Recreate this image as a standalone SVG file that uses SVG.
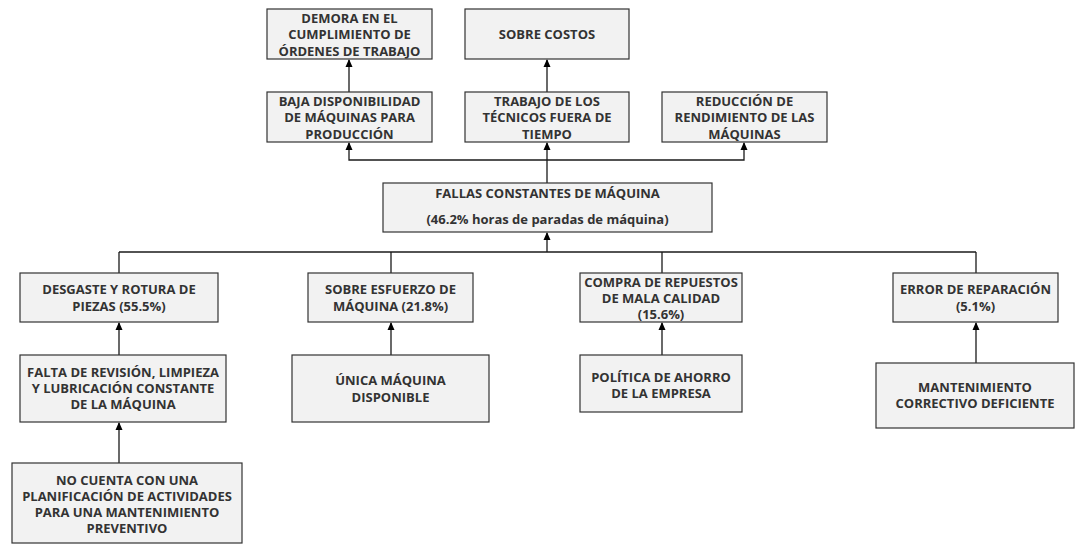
<svg xmlns="http://www.w3.org/2000/svg" width="1075" height="544" viewBox="0 0 1075 544">
  <style>
    .box { fill: #f2f2f2; stroke: #333333; stroke-width: 1.2; }
    .lbl { font-family: "Open Sans", "Liberation Sans", sans-serif; font-weight: 700; font-size: 13px; fill: #333333; text-anchor: middle; }
    .edge { fill: none; stroke: #1a1a1a; stroke-width: 1.3; }
  </style>
  <defs>
    <marker id="arrow" markerWidth="8" markerHeight="8" refX="7" refY="4" orient="auto" markerUnits="userSpaceOnUse">
      <path d="M0,0.5 L8,4 L0,7.5 Z" fill="#000000"/>
    </marker>
  </defs>
  <rect width="1075" height="544" fill="#ffffff"/>

  <!-- connectors -->
  <g id="connectors">
    <path class="edge" d="M349,92 V60" marker-end="url(#arrow)"/>
    <path class="edge" d="M547,92 V60" marker-end="url(#arrow)"/>
    <path class="edge" d="M547,183 V160"/>
    <path class="edge" d="M547,160 H349 V143" marker-end="url(#arrow)"/>
    <path class="edge" d="M547,160 V143" marker-end="url(#arrow)"/>
    <path class="edge" d="M547,160 H744 V143" marker-end="url(#arrow)"/>
    <path class="edge" d="M119,252 H976"/>
    <path class="edge" d="M547,252 V233" marker-end="url(#arrow)"/>
    <path class="edge" d="M119,252 V273"/>
    <path class="edge" d="M391,252 V273"/>
    <path class="edge" d="M662,252 V273"/>
    <path class="edge" d="M976,252 V273"/>
    <path class="edge" d="M119,355 V323" marker-end="url(#arrow)"/>
    <path class="edge" d="M119,463 V423" marker-end="url(#arrow)"/>
    <path class="edge" d="M391,355 V323" marker-end="url(#arrow)"/>
    <path class="edge" d="M662,355 V323" marker-end="url(#arrow)"/>
    <path class="edge" d="M976,363 V323" marker-end="url(#arrow)"/>
  </g>

  <g id="demora">
    <rect class="box" x="267" y="9" width="165" height="50"/>
    <text class="lbl"><tspan x="349.5" y="22.5">DEMORA EN EL</tspan><tspan x="349.5" y="39">CUMPLIMIENTO DE</tspan><tspan x="349.5" y="55.5">ÓRDENES DE TRABAJO</tspan></text>
  </g>
  <g id="sobrecostos">
    <rect class="box" x="465" y="9" width="164" height="50"/>
    <text class="lbl" x="547" y="38.5">SOBRE COSTOS</text>
  </g>
  <g id="baja">
    <rect class="box" x="267" y="92" width="165" height="50"/>
    <text class="lbl"><tspan x="349.5" y="105.5">BAJA DISPONIBILIDAD</tspan><tspan x="349.5" y="122">DE MÁQUINAS PARA</tspan><tspan x="349.5" y="138.5">PRODUCCIÓN</tspan></text>
  </g>
  <g id="trabajo">
    <rect class="box" x="465" y="92" width="164" height="50"/>
    <text class="lbl"><tspan x="547" y="105.5">TRABAJO DE LOS</tspan><tspan x="547" y="122">TÉCNICOS FUERA DE</tspan><tspan x="547" y="138.5">TIEMPO</tspan></text>
  </g>
  <g id="reduccion">
    <rect class="box" x="662" y="92" width="165" height="50"/>
    <text class="lbl"><tspan x="744.5" y="105.5">REDUCCIÓN DE</tspan><tspan x="744.5" y="122">RENDIMIENTO DE LAS</tspan><tspan x="744.5" y="138.5">MÁQUINAS</tspan></text>
  </g>
  <g id="fallas">
    <rect class="box" x="383" y="183" width="329" height="49"/>
    <text class="lbl"><tspan x="547.5" y="198">FALLAS CONSTANTES DE MÁQUINA</tspan><tspan x="547.5" y="224">(46.2% horas de paradas de máquina)</tspan></text>
  </g>
  <g id="desgaste">
    <rect class="box" x="20" y="273" width="198" height="49"/>
    <text class="lbl"><tspan x="119" y="294">DESGASTE Y ROTURA DE</tspan><tspan x="119" y="311">PIEZAS (55.5%)</tspan></text>
  </g>
  <g id="sobreesfuerzo">
    <rect class="box" x="308" y="273" width="165" height="49"/>
    <text class="lbl"><tspan x="390.5" y="294">SOBRE ESFUERZO DE</tspan><tspan x="390.5" y="311">MÁQUINA (21.8%)</tspan></text>
  </g>
  <g id="compra">
    <rect class="box" x="580" y="273" width="162" height="49"/>
    <text class="lbl"><tspan x="661" y="287">COMPRA DE REPUESTOS</tspan><tspan x="661" y="303">DE MALA CALIDAD</tspan><tspan x="661" y="319">(15.6%)</tspan></text>
  </g>
  <g id="error">
    <rect class="box" x="893" y="273" width="165" height="49"/>
    <text class="lbl"><tspan x="975.5" y="294">ERROR DE REPARACIÓN</tspan><tspan x="975.5" y="311">(5.1%)</tspan></text>
  </g>
  <g id="falta">
    <rect class="box" x="20" y="355" width="206" height="67"/>
    <text class="lbl"><tspan x="123" y="377">FALTA DE REVISIÓN, LIMPIEZA</tspan><tspan x="123" y="393">Y LUBRICACIÓN CONSTANTE</tspan><tspan x="123" y="409">DE LA MÁQUINA</tspan></text>
  </g>
  <g id="unica">
    <rect class="box" x="292" y="355" width="197" height="67"/>
    <text class="lbl"><tspan x="390.5" y="385">ÚNICA MÁQUINA</tspan><tspan x="390.5" y="402">DISPONIBLE</tspan></text>
  </g>
  <g id="politica">
    <rect class="box" x="580" y="355" width="162" height="57"/>
    <text class="lbl"><tspan x="661" y="382">POLÍTICA DE AHORRO</tspan><tspan x="661" y="398">DE LA EMPRESA</tspan></text>
  </g>
  <g id="mantenimiento">
    <rect class="box" x="876" y="363" width="198" height="65"/>
    <text class="lbl"><tspan x="975" y="392">MANTENIMIENTO</tspan><tspan x="975" y="408">CORRECTIVO DEFICIENTE</tspan></text>
  </g>
  <g id="nocuenta">
    <rect class="box" x="12" y="463" width="230" height="80"/>
    <text class="lbl"><tspan x="127" y="485">NO CUENTA CON UNA</tspan><tspan x="127" y="501">PLANIFICACIÓN DE ACTIVIDADES</tspan><tspan x="127" y="517">PARA UNA MANTENIMIENTO</tspan><tspan x="127" y="533">PREVENTIVO</tspan></text>
  </g>
</svg>
